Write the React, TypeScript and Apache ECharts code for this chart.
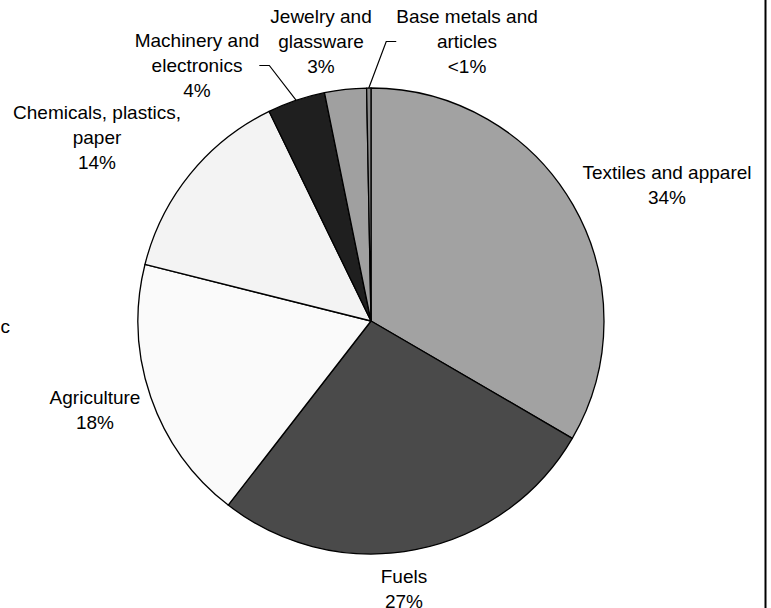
import React, { useEffect, useRef } from "react";
import * as echarts from "echarts";

const categories = [
  "Textiles and apparel",
  "Fuels",
  "Agriculture",
  "Chemicals, plastics, paper",
  "Machinery and electronics",
  "Jewelry and glassware",
  "Base metals and articles",
];
const shares = [33.4, 27.1, 18.4, 13.9, 4.0, 2.9, 0.3];
const percentLabels = ["34%", "27%", "18%", "14%", "4%", "3%", "<1%"];
const labelNames = [
  "Textiles and apparel",
  "Fuels",
  "Agriculture",
  "Chemicals, plastics,\npaper",
  "Machinery and\nelectronics",
  "Jewelry and\nglassware",
  "Base metals and\narticles",
];
const sliceColors = ["#a2a2a2", "#4a4a4a", "#fafafa", "#f3f3f3", "#1f1f1f", "#a0a0a0", "#8a8a8a"];
// label centre positions (x, top y)
const labelPos: [number, number][] = [
  [667, 160],
  [404, 564],
  [95, 385],
  [97, 100],
  [197, 28],
  [321, 4],
  [467, 4],
];
const showLine = [false, false, false, false, true, false, true];

export default function App() {
  const ref = useRef<HTMLDivElement>(null);
  useEffect(() => {
    const chart = echarts.init(ref.current!, null, { renderer: "svg" });
    chart.setOption({
      animation: false,
      backgroundColor: "#ffffff",
      textStyle: { fontFamily: "Liberation Sans, Arial, sans-serif" },
      graphic: [
        {
          type: "line",
          shape: { x1: 765.5, y1: 0, x2: 765.5, y2: 608 },
          style: { stroke: "#000", lineWidth: 2 },
        },
        {
          type: "text",
          x: 10,
          y: 326,
          style: {
            text: "ic",
            align: "right",
            verticalAlign: "middle",
            fontSize: 19,
            fill: "#000",
            fontFamily: "Liberation Sans, Arial, sans-serif",
          },
        },
      ],
      series: [
        {
          type: "pie",
          center: [371, 321],
          radius: 233,
          startAngle: 90,
          clockwise: true,
          avoidLabelOverlap: false,
          itemStyle: { borderColor: "#000", borderWidth: 1.3 },
          emphasis: { disabled: true },
          label: {
            show: true,
            position: "outside",
            color: "#000",
            fontSize: 19,
            lineHeight: 25,
            align: "center",
            fontFamily: "Liberation Sans, Arial, sans-serif",
            formatter: (p: any) => labelNames[p.dataIndex] + "\n" + percentLabels[p.dataIndex],
          },
          labelLine: { show: true, lineStyle: { color: "#000", width: 1.2 }, length: 10, length2: 10 },
          labelLayout: (params: any) => {
            const i = params.dataIndex;
            const [x, y] = labelPos[i];
            return { x, y, align: "center", verticalAlign: "top" };
          },
          data: categories.map((c, i) => ({
            name: c,
            value: shares[i],
            itemStyle: { color: sliceColors[i] },
            labelLine: { show: showLine[i] },
          })),
        },
      ],
    });
    return () => chart.dispose();
  }, []);
  return (
    <div
      ref={ref}
      style={{ position: "fixed", left: 0, top: 0, width: 771, height: 608 }}
    />
  );
}
